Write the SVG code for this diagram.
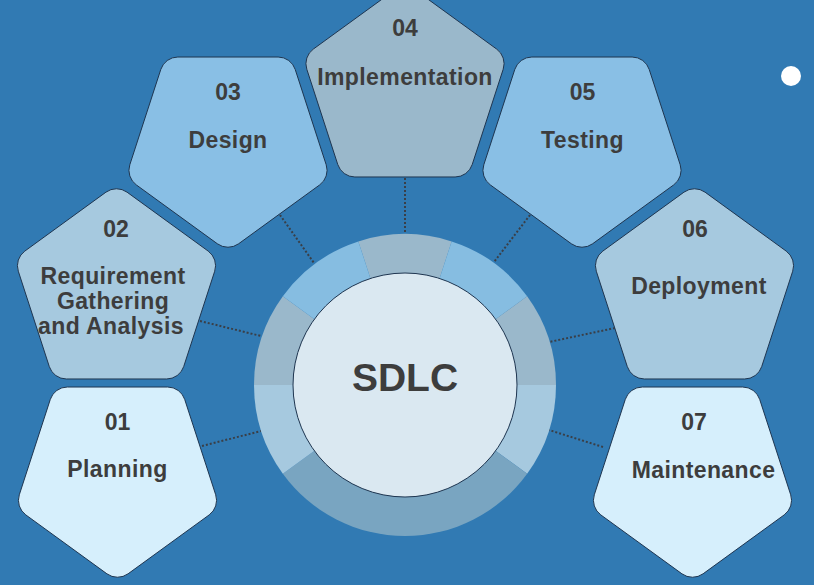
<svg xmlns="http://www.w3.org/2000/svg" xmlns:xlink="http://www.w3.org/1999/xlink" width="814" height="585" viewBox="0 0 814 585">
<style>
.t{font-family:"Liberation Sans",Arial,sans-serif;font-weight:bold;fill:#3d3d3d;text-anchor:middle}
.n{font-size:23px}
.l{font-size:23px;letter-spacing:0.4px}
.pent{stroke:#1e3550;stroke-width:1}
.c1{fill:#d6effc}
.c2{fill:#a6c9df}
.c3{fill:#89bfe5}
.c4{fill:#9ab8cb}
.dot{stroke:#3a3f47;stroke-width:2;stroke-dasharray:2 2;fill:none}
</style>
<defs>
<path id="pd" d="M10.58,99.81 L91.66,40.91 A18,18 0 0 0 98.20,20.78 L67.23,-74.53 A18,18 0 0 0 50.11,-86.97 L-50.11,-86.97 A18,18 0 0 0 -67.23,-74.53 L-98.20,20.78 A18,18 0 0 0 -91.66,40.91 L-10.58,99.81 A18,18 0 0 0 10.58,99.81 Z"/>
<path id="pu" d="M10.58,-99.81 L91.66,-40.91 A18,18 0 0 1 98.20,-20.78 L67.23,74.53 A18,18 0 0 1 50.11,86.97 L-50.11,86.97 A18,18 0 0 1 -67.23,74.53 L-98.20,-20.78 A18,18 0 0 1 -91.66,-40.91 L-10.58,-99.81 A18,18 0 0 1 10.58,-99.81 Z"/>
</defs>
<rect x="0" y="0" width="814" height="585" fill="#317ab3"/>
<circle cx="791" cy="76" r="10" fill="#ffffff"/>
<g id="connectors">
<line class="dot" x1="202" y1="446" x2="261" y2="431"/>
<line class="dot" x1="200" y1="321" x2="261" y2="336"/>
<line class="dot" x1="280" y1="215" x2="314" y2="263"/>
<line class="dot" x1="405" y1="178" x2="405" y2="234"/>
<line class="dot" x1="530" y1="215" x2="494" y2="262"/>
<line class="dot" x1="615" y1="328" x2="549" y2="342"/>
<line class="dot" x1="603" y1="447" x2="549" y2="430"/>
</g>
<g id="sdlc">
<path d="M405,385 L358.34,241.39 A151,151 0 0 1 451.66,241.39 Z" fill="#9ab8cb"/>
<path d="M405,385 L451.66,241.39 A151,151 0 0 1 527.16,296.24 Z" fill="#86bde1"/>
<path d="M405,385 L527.16,296.24 A151,151 0 0 1 556,385 Z" fill="#9ab8cb"/>
<path d="M405,385 L556,385 A151,151 0 0 1 527.16,473.76 Z" fill="#a6c9df"/>
<path d="M405,385 L527.16,473.76 A151,151 0 0 1 282.84,473.76 Z" fill="#79a5c1"/>
<path d="M405,385 L282.84,473.76 A151,151 0 0 1 254,385 Z" fill="#a6c9df"/>
<path d="M405,385 L254,385 A151,151 0 0 1 282.84,296.24 Z" fill="#9ab8cb"/>
<path d="M405,385 L282.84,296.24 A151,151 0 0 1 358.34,241.39 Z" fill="#86bde1"/>
<circle cx="405" cy="385" r="112" fill="#dae8f1" stroke="#1e3550" stroke-width="1"/>
<text class="t" x="405" y="390.5" style="font-size:39px">SDLC</text>
</g>
<g id="node01">
<use xlink:href="#pd" x="117.5" y="474" class="pent c1"/>
<text class="t n" x="117.5" y="430">01</text>
<text class="t l" x="117.5" y="476.5">Planning</text>
</g>
<g id="node02">
<use xlink:href="#pu" x="116.5" y="292" class="pent c2"/>
<text class="t n" x="116" y="237">02</text>
<text class="t l" x="113" y="283.5">Requirement</text>
<text class="t l" x="113" y="308.5">Gathering</text>
<text class="t l" x="111" y="333.5">and Analysis</text>
</g>
<g id="node03">
<use xlink:href="#pd" x="228" y="144" class="pent c3"/>
<text class="t n" x="228" y="99.5">03</text>
<text class="t l" x="228" y="147.5">Design</text>
</g>
<g id="node04">
<use xlink:href="#pu" x="405" y="90" class="pent c4"/>
<text class="t n" x="405" y="36">04</text>
<text class="t l" x="405" y="85">Implementation</text>
</g>
<g id="node05">
<use xlink:href="#pd" x="582" y="144" class="pent c3"/>
<text class="t n" x="582.5" y="99.5">05</text>
<text class="t l" x="582.5" y="147.5">Testing</text>
</g>
<g id="node06">
<use xlink:href="#pu" x="694.5" y="292" class="pent c2"/>
<text class="t n" x="695" y="237">06</text>
<text class="t l" x="699" y="293.5">Deployment</text>
</g>
<g id="node07">
<use xlink:href="#pd" x="692.5" y="474" class="pent c1"/>
<text class="t n" x="694" y="429.5">07</text>
<text class="t l" x="703.5" y="477.5">Maintenance</text>
</g>
</svg>
